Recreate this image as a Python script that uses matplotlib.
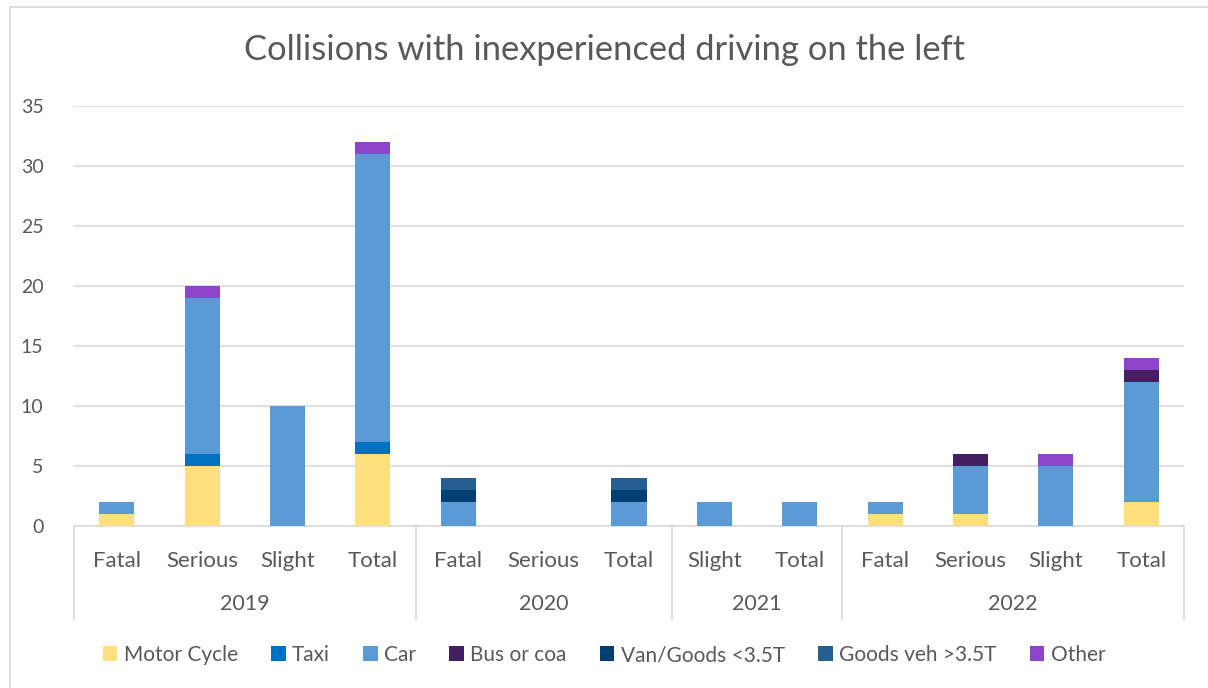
import numpy as np
import matplotlib.pyplot as plt
from matplotlib.transforms import blended_transform_factory
from matplotlib.patches import Rectangle

plt.rcParams['font.family'] = ['Lato', 'DejaVu Sans']

# category layout (multi-level axis)
categories = ['Fatal', 'Serious', 'Slight', 'Total',
              'Fatal', 'Serious', 'Total',
              'Slight', 'Total',
              'Fatal', 'Serious', 'Slight', 'Total']
years = ['2019', '2020', '2021', '2022']
year_sizes = [4, 3, 2, 4]

series_names = ['Motor Cycle', 'Taxi', 'Car', 'Bus or coa',
                'Van/Goods <3.5T', 'Goods veh >3.5T', 'Other']
motor_cycle = [1, 5, 0, 6, 0, 0, 0, 0, 0, 1, 1, 0, 2]
taxi =        [0, 1, 0, 1, 0, 0, 0, 0, 0, 0, 0, 0, 0]
car =         [1, 13, 10, 24, 2, 0, 2, 2, 2, 1, 4, 5, 10]
bus =         [0, 0, 0, 0, 0, 0, 0, 0, 0, 0, 1, 0, 1]
van =         [0, 0, 0, 0, 1, 0, 1, 0, 0, 0, 0, 0, 0]
goods =       [0, 0, 0, 0, 1, 0, 1, 0, 0, 0, 0, 0, 0]
other =       [0, 1, 0, 1, 0, 0, 0, 0, 0, 0, 0, 1, 1]

colors = ['#FFDF80', '#0070C0', '#5B9BD5', '#431E60',
          '#013F73', '#255E91', '#8E44C6']

W, H = 1208, 688
fig = plt.figure(figsize=(W / 100, H / 100), dpi=100)
ax = fig.add_axes([74 / W, 1 - 526 / H, (1184 - 74) / W, 420 / H])

x = np.arange(len(categories))
bottom = np.zeros(len(categories))
all_series = [motor_cycle, taxi, car, bus, van, goods, other]
for name, vals, c in zip(series_names, all_series, colors):
    vals = np.array(vals, dtype=float)
    ax.bar(x, vals, 0.41, bottom=bottom, color=c, label=name, zorder=3)
    bottom += vals

ax.set_xlim(-0.5, len(categories) - 0.5)
ax.set_ylim(0, 35)
ax.set_yticks(range(0, 36, 5))
ax.grid(axis='y', color='#D9D9D9', linewidth=1.2, zorder=0)
for s in ['left', 'right', 'top']:
    ax.spines[s].set_visible(False)
ax.spines['bottom'].set_color('#D9D9D9')
ax.spines['bottom'].set_linewidth(1.2)
ax.tick_params(axis='y', length=0, pad=22, labelsize=14, labelcolor='#595959')
ax.tick_params(axis='x', length=0, pad=18, labelsize=16, labelcolor='#595959')
ax.set_xticks(x)
ax.set_xticklabels(categories)

# year labels and group separators
trans = blended_transform_factory(ax.transData, ax.transAxes)
sep_bottom = (526 - 619) / 420
start = -0.5
ax.plot([start, start], [0, sep_bottom], color='#D9D9D9', lw=1.2,
        transform=trans, clip_on=False)
for yr, n in zip(years, year_sizes):
    end = start + n
    ax.plot([end, end], [0, sep_bottom], color='#D9D9D9', lw=1.2,
            transform=trans, clip_on=False)
    ax.text((start + end) / 2, (526 - 604) / 420, yr, transform=trans,
            ha='center', va='center', fontsize=15.5, color='#595959')
    start = end

fig.text(0.5, 1 - 50 / H, 'Collisions with inexperienced driving on the left',
         ha='center', va='center', fontsize=24.8, color='#595959')

fig.legend(loc='center', bbox_to_anchor=(0.5, 1 - 655 / H), ncol=7,
           frameon=False, fontsize=15, handlelength=0.7, handleheight=0.7,
           handletextpad=0.3, columnspacing=1.6, labelcolor='#595959')

# chart border
fig.patches.append(Rectangle((10 / W, -0.01), 1.02, 1 - 7 / H + 0.01,
                             transform=fig.transFigure, fill=False,
                             edgecolor='#D9D9D9', lw=1.2))

plt.savefig('out.png', dpi=100)
